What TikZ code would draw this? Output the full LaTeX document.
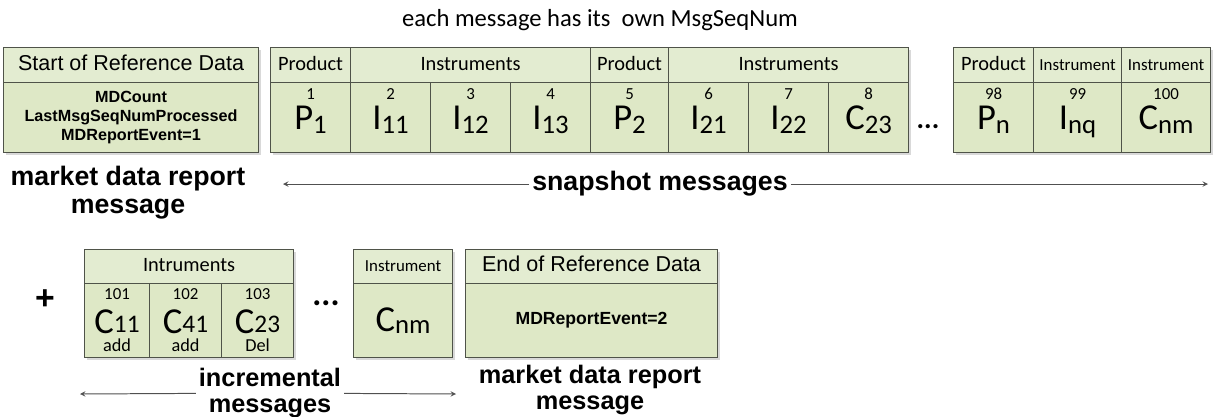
\documentclass[tikz,border=0pt]{standalone}
\usepackage{fontspec}
\setmainfont{Liberation Sans}
\newfontfamily\calibri{Carlito}
\usetikzlibrary{positioning,shadows}

\newlength\pxl
\setlength\pxl{0.025cm}
\definecolor{hdrgreen}{HTML}{E3ECD1}
\definecolor{cellgreen}{HTML}{DEE8C6}
\definecolor{edgegray}{HTML}{4F5349}
\definecolor{arrowgray}{HTML}{505050}

% number, big letter and its index of one message
\newcommand{\msg}[3]{{\fontsize{12}{12}\selectfont #1}\\#2\raisebox{-2.5pt}{\fontsize{19}{19}\selectfont #3}}
% same, with the kind of update under it
\newcommand{\upd}[4]{{\fontsize{12}{12}\selectfont #1}\\#2\raisebox{1pt}{\fontsize{18}{18}\selectfont #3}\\[-11pt]{\fontsize{13}{13}\selectfont #4}}

\tikzset{
  box/.style={draw=edgegray, line width=0.8pt, fill=cellgreen, anchor=north west,
    inner sep=0pt, align=center,
    general shadow={fill=black, opacity=0.15, shadow xshift=1.5pt, shadow yshift=-1.5pt}},
  hdr/.style={box, fill=hdrgreen, minimum height=35\pxl, text height=10.5pt, text depth=3pt,
    font=\calibri\fontsize{14.5}{17}\selectfont},
  lowhdr/.style={hdr, minimum height=34\pxl},
  smallhdr/.style={font=\calibri\fontsize{12}{14}\selectfont},
  refhdr/.style={font=\fontsize{15.3}{18}\selectfont},
  msgcell/.style={box, minimum height=70\pxl, text height=30pt, text depth=13pt,
    font=\calibri\fontsize{26}{21.5}\selectfont},
  updcell/.style={box, minimum height=74\pxl, font=\calibri\fontsize{26}{24}\selectfont},
  infocell/.style={box, font=\bfseries\fontsize{11.5}{13.5}\selectfont},
  label/.style={font=\bfseries\fontsize{18}{19}\selectfont, align=center, inner sep=2pt},
  dots/.style={font=\calibri\bfseries\fontsize{20}{20}\selectfont, inner sep=0pt, anchor=base},
  arr/.style={->, draw=arrowgray, line width=0.7pt}
}

\begin{document}
\begin{tikzpicture}[x=0.025cm, y=-0.025cm, >=stealth]
  \useasboundingbox (0,0) rectangle (1213,416);
  % Title
  \node[font=\calibri\fontsize{17.5}{20}\selectfont] (title) at (600,20) {each message has its~~own MsgSeqNum};

  % Start of reference data
  \node[hdr, refhdr, minimum width=255\pxl] (starthdr) at (3,47) {Start of Reference Data};
  \node[infocell, minimum width=255\pxl, minimum height=70\pxl] (startbody) at (3,82)
    {MDCount\\LastMsgSeqNumProcessed\\MDReportEvent=1};
  \node[label, font=\bfseries\fontsize{19}{20}\selectfont] (startlbl) at (128,193) {market data report\\message};

  % Snapshot messages
  \node[hdr, minimum width=80\pxl] (prod1) at (270,47) {Product};
  \node[hdr, minimum width=240\pxl] (inst1) at (350,47) {Instruments};
  \node[hdr, minimum width=78\pxl] (prod2) at (590,47) {Product};
  \node[hdr, minimum width=240\pxl] (inst2) at (668,47) {Instruments};
  \node[msgcell, minimum width=80\pxl] (m1) at (270,82) {\msg{1}{P}{1}};
  \node[msgcell, minimum width=80\pxl] (m2) at (350,82) {\msg{2}{I}{11}};
  \node[msgcell, minimum width=80\pxl] (m3) at (430,82) {\msg{3}{I}{12}};
  \node[msgcell, minimum width=80\pxl] (m4) at (510,82) {\msg{4}{I}{13}};
  \node[msgcell, minimum width=78\pxl] (m5) at (590,82) {\msg{5}{P}{2}};
  \node[msgcell, minimum width=80\pxl] (m6) at (668,82) {\msg{6}{I}{21}};
  \node[msgcell, minimum width=80\pxl] (m7) at (748,82) {\msg{7}{I}{22}};
  \node[msgcell, minimum width=80\pxl] (m8) at (828,82) {\msg{8}{C}{23}};
  \node[dots] (snapdots) at (928,128) {...};
  \node[hdr, minimum width=80\pxl] (prodn) at (953,47) {Product};
  \node[hdr, smallhdr, minimum width=88\pxl] (instq) at (1033,47) {Instrument};
  \node[hdr, smallhdr, minimum width=89\pxl] (instm) at (1121,47) {Instrument};
  \node[msgcell, minimum width=80\pxl] (m98) at (953,82) {\msg{98}{P}{n}};
  \node[msgcell, minimum width=88\pxl] (m99) at (1033,82) {\msg{99}{I}{nq}};
  \node[msgcell, minimum width=89\pxl] (m100) at (1121,82) {\msg{100}{C}{nm}};

  % Arrow under the snapshot
  \coordinate (snapL) at (283,184);
  \coordinate (snapR) at (1208,184);
  \node[label, font=\bfseries\fontsize{19}{20}\selectfont] (snap) at (660,184) {snapshot messages};
  \draw[arr] (snap) -- (snapL);
  \draw[arr] (snap) -- (snapR);

  % Incremental messages
  \node[font=\bfseries\fontsize{24}{24}\selectfont] (plus) at (45,300) {+};
  \node[lowhdr, minimum width=209\pxl] (incrhdr) at (84,249) {Intruments};
  \node[updcell, minimum width=65\pxl] (u101) at (84,283) {\upd{101}{C}{11}{add}};
  \node[updcell, minimum width=72\pxl] (u102) at (149,283) {\upd{102}{C}{41}{add}};
  \node[updcell, minimum width=72\pxl] (u103) at (221,283) {\upd{103}{C}{23}{Del}};
  \node[dots, font=\calibri\bfseries\fontsize{24}{24}\selectfont] (incrdots) at (326,305) {...};
  \node[lowhdr, smallhdr, minimum width=99\pxl] (lasthdr) at (353,249) {Instrument};
  \node[updcell, minimum width=99\pxl] (ulast) at (353,283) {C\raisebox{-1pt}{\fontsize{19}{19}\selectfont nm}};

  \coordinate (incrL) at (80,394);
  \coordinate (incrR) at (456,394);
  \node[label] (incr) at (270,393) {incremental\\messages};
  \draw[arr] (incr) -- (incrL);
  \draw[arr] (incr) -- (incrR);

  % End of reference data
  \node[lowhdr, refhdr, minimum width=252\pxl] (endhdr) at (465,249) {End of Reference Data};
  \node[infocell, minimum width=252\pxl, minimum height=74\pxl,
    font=\bfseries\fontsize{12.5}{14}\selectfont] (endbody) at (465,283) {MDReportEvent=2};
  \node[label] (endlbl) at (590,390) {market data report\\message};
\end{tikzpicture}
\end{document}
